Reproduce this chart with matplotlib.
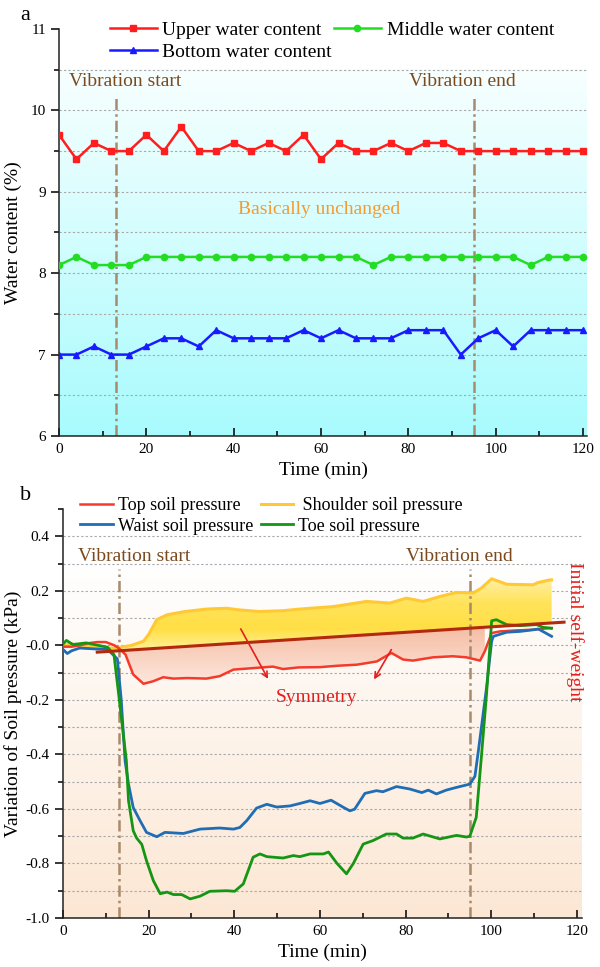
import numpy as np
import matplotlib.pyplot as plt
from matplotlib.colors import LinearSegmentedColormap
from matplotlib.ticker import MultipleLocator, FormatStrFormatter
from matplotlib.path import Path

plt.rcParams['font.family'] = ['Liberation Serif', 'DejaVu Serif']
plt.rcParams['axes.unicode_minus'] = False

# ---- panel a: water content (%) every 4 min ----
time_a = [0, 4, 8, 12, 16, 20, 24, 28, 32, 36, 40, 44, 48, 52, 56, 60,
          64, 68, 72, 76, 80, 84, 88, 92, 96, 100, 104, 108, 112, 116, 120]
upper = [9.7, 9.4, 9.6, 9.5, 9.5, 9.7, 9.5, 9.8, 9.5, 9.5, 9.6, 9.5, 9.6, 9.5, 9.7, 9.4,
         9.6, 9.5, 9.5, 9.6, 9.5, 9.6, 9.6, 9.5, 9.5, 9.5, 9.5, 9.5, 9.5, 9.5, 9.5]
middle = [8.1, 8.2, 8.1, 8.1, 8.1, 8.2, 8.2, 8.2, 8.2, 8.2, 8.2, 8.2, 8.2, 8.2, 8.2, 8.2,
          8.2, 8.2, 8.1, 8.2, 8.2, 8.2, 8.2, 8.2, 8.2, 8.2, 8.2, 8.1, 8.2, 8.2, 8.2]
bottom = [7.0, 7.0, 7.1, 7.0, 7.0, 7.1, 7.2, 7.2, 7.1, 7.3, 7.2, 7.2, 7.2, 7.2, 7.3, 7.2,
          7.3, 7.2, 7.2, 7.2, 7.3, 7.3, 7.3, 7.0, 7.2, 7.3, 7.1, 7.3, 7.3, 7.3, 7.3]

# ---- panel b: soil pressure variation (kPa) ----
top_t = [0, 2, 4, 6, 8, 10, 12, 13, 14.6, 16.4, 18.8, 21, 23.4, 25.8, 29, 33.5, 36.6,
         39.8, 44, 49, 51.4, 55, 60, 64, 68.6, 73.3, 76.7, 79.4, 81.7, 86.4, 91, 94.2,
         97.4, 98.5, 100.1, 102, 106, 109.6, 113.5, 114]
top_v = [-0.005, -0.005, 0.0, 0.008, 0.012, 0.012, 0.0, -0.01, -0.034, -0.107, -0.141,
         -0.132, -0.117, -0.122, -0.12, -0.122, -0.113, -0.089, -0.084, -0.078, -0.087,
         -0.081, -0.08, -0.075, -0.071, -0.059, -0.028, -0.052, -0.056, -0.044, -0.04,
         -0.044, -0.056, -0.022, 0.045, 0.051, 0.055, 0.057, 0.063, 0.062]

shoulder_t = [0, 2, 4, 6, 8, 10, 12.5, 16, 18.8, 20, 21.9, 24.3, 28.5, 33.5, 38.2, 41.1,
              45.8, 51.4, 55.3, 63.1, 70.9, 76.3, 80.2, 84.1, 88, 91.9, 95.8, 97.7,
              100.1, 103.6, 109.8, 110.9, 113.7, 114.1]
shoulder_v = [0.0, 0.005, 0.0, -0.005, -0.005, -0.01, -0.01, 0.0, 0.015, 0.04, 0.094,
              0.112, 0.124, 0.133, 0.136, 0.13, 0.124, 0.127, 0.133, 0.142, 0.161, 0.155,
              0.173, 0.161, 0.179, 0.194, 0.192, 0.21, 0.244, 0.224, 0.222, 0.23, 0.24, 0.24]

waist_t = [0, 1, 2, 3.9, 7.3, 10.4, 12.7, 13.6, 14.5, 15.3, 16.4, 18, 19.5, 21.9, 23.8,
           28.1, 32, 36.6, 39.8, 41.3, 42.9, 45.2, 47.6, 49.9, 53, 55.3, 57.7, 60, 62.6,
           65.8, 67, 68.1, 70.5, 73.2, 74.7, 77.9, 81, 83.8, 85.3, 87.2, 89.5, 91.9, 95,
           96.2, 97, 98.9, 100.1, 100.5, 103.6, 106.7, 109.8, 111, 112.5, 114.1]
waist_v = [-0.015, -0.03, -0.02, -0.01, -0.013, -0.015, -0.05, -0.2, -0.424, -0.509,
           -0.595, -0.643, -0.686, -0.702, -0.686, -0.69, -0.674, -0.67, -0.674, -0.668,
           -0.643, -0.597, -0.583, -0.593, -0.589, -0.58, -0.57, -0.58, -0.568, -0.597,
           -0.607, -0.601, -0.543, -0.533, -0.537, -0.518, -0.527, -0.54, -0.531, -0.545,
           -0.531, -0.521, -0.509, -0.48, -0.387, -0.156, 0.015, 0.033, 0.048, 0.051,
           0.057, 0.06, 0.047, 0.033]

toe_t = [0, 0.8, 2.3, 5.4, 7.3, 10.4, 11.9, 13, 14.8, 15.3, 16.4, 17.2, 18.4, 19.5, 21.1,
         22.7, 24.3, 25.8, 27.7, 29.7, 32, 34.3, 38.2, 40.1, 42.1, 44.4, 46, 47.6, 51.4,
         53.8, 55.3, 57.7, 60.8, 62, 64, 66.2, 67.8, 70.1, 72.4, 75.5, 77.9, 79.4, 81.7,
         84.1, 88, 91.9, 94.2, 95, 96.5, 97.7, 98.9, 100.1, 101.2, 103.6, 106.7, 110.6,
         112.1, 114.1]
toe_v = [0.005, 0.018, 0.003, 0.009, 0.003, -0.007, -0.034, -0.18, -0.424, -0.57, -0.68,
         -0.707, -0.73, -0.79, -0.863, -0.911, -0.905, -0.914, -0.914, -0.93, -0.92,
         -0.902, -0.9, -0.902, -0.875, -0.777, -0.765, -0.775, -0.78, -0.771, -0.775,
         -0.765, -0.765, -0.758, -0.8, -0.838, -0.8, -0.729, -0.716, -0.692, -0.692,
         -0.707, -0.707, -0.692, -0.71, -0.697, -0.703, -0.7, -0.631, -0.41, -0.18, 0.09,
         0.094, 0.076, 0.072, 0.076, 0.066, 0.063]

selfweight_t = [8, 117]
selfweight_v = [-0.025, 0.085]

vib_start, vib_end = 13, 95

brown_line = '#a88a6c'
brown_text = '#7b4a1e'
vib_ls = (0, (4.5, 1.6, 1, 1.6))


def vgrad(ax, extent, colors, z=0):
    cmap = LinearSegmentedColormap.from_list('g', colors)
    grad = np.linspace(0, 1, 256).reshape(-1, 1)
    return ax.imshow(grad, extent=extent, origin='lower', aspect='auto',
                     cmap=cmap, zorder=z, interpolation='bilinear')


def style_axes(ax):
    for s in ['top', 'right']:
        ax.spines[s].set_visible(False)
    for s in ['left', 'bottom']:
        ax.spines[s].set_linewidth(1.1)
        ax.spines[s].set_color('#222222')
    ax.tick_params(axis='y', which='major', direction='out', length=6, width=1.1, labelsize=11)
    ax.tick_params(axis='y', which='minor', direction='out', length=3.5, width=1.1)
    ax.tick_params(axis='x', which='major', direction='in', length=6, width=1.1, labelsize=11, pad=5)
    ax.tick_params(axis='x', which='minor', direction='in', length=3.5, width=1.1)
    ax.xaxis.set_major_locator(MultipleLocator(20))
    ax.xaxis.set_minor_locator(MultipleLocator(10))


fig = plt.figure(figsize=(6, 9.67), dpi=100)

# ================= panel a =================
ax = fig.add_axes([59 / 600, 1 - 436 / 967, 528 / 600, 407 / 967])
vgrad(ax, (0, 120.9, 6, 10.5), ['#a8fbfd', '#f8ffff'])
ax.hlines(np.arange(6.5, 10.51, 0.5), 0, 120.9, colors='#a8a8a8', lw=0.8,
          linestyles=(0, (2, 2)), zorder=1)
ax.plot([vib_start, vib_start], [6, 10.15], color=brown_line, lw=1.8, ls=vib_ls, zorder=2)
ax.plot([vib_end, vib_end], [6, 10.15], color=brown_line, lw=1.8, ls=vib_ls, zorder=2)
l_up, = ax.plot(time_a, upper, color='#ff1e1e', lw=1.8, marker='s', ms=4.5, zorder=3)
l_mid, = ax.plot(time_a, middle, color='#22dd22', lw=1.8, marker='o', ms=4.5, zorder=3)
l_bot, = ax.plot(time_a, bottom, color='#1a1aff', lw=1.8, marker='^', ms=4.5, zorder=3)
ax.text(2.3, 10.35, 'Vibration start', color=brown_text, fontsize=14, va='center')
ax.text(80.1, 10.36, 'Vibration end', color=brown_text, fontsize=14, va='center')
ax.text(59.5, 8.78, 'Basically unchanged', color='#f59a2e', fontsize=14,
        ha='center', va='center')
ax.set_xlim(0, 120.9)
ax.set_ylim(6, 11)
style_axes(ax)
ax.yaxis.set_major_locator(MultipleLocator(1))
ax.yaxis.set_minor_locator(MultipleLocator(0.5))
ax.set_xlabel('Time (min)', fontsize=14, labelpad=4)
ax.set_ylabel('Water content (%)', fontsize=14)
ax.yaxis.set_label_coords(-0.07, 0.5)
ax.legend([l_up, l_bot, l_mid],
          ['Upper water content', 'Bottom water content', 'Middle water content'],
          ncol=2, frameon=False, fontsize=14, loc='upper left',
          bbox_to_anchor=(110 / 600, 1 - 21 / 967), bbox_transform=fig.transFigure,
          borderpad=0, borderaxespad=0, handlelength=2.4, handletextpad=0.3,
          columnspacing=0.1, labelspacing=0.25)
fig.text(20 / 600, 1 - 15 / 967, 'a', fontsize=16, va='center')

# ================= panel b =================
ax = fig.add_axes([63 / 600, 1 - 918 / 967, 519 / 600, 409 / 967])
vgrad(ax, (0, 121.2, -1.0, 0.3), ['#fce7d4', '#ffffff'])
ax.hlines(np.arange(-0.9, 0.41, 0.1), 0, 121.2, colors='#a8a8a8', lw=0.8,
          linestyles=(0, (2, 2)), zorder=1)
ax.plot([vib_start, vib_start], [-1.0, 0.28], color=brown_line, lw=1.8, ls=vib_ls, zorder=2)
ax.plot([vib_end, vib_end], [-1.0, 0.28], color=brown_line, lw=1.8, ls=vib_ls, zorder=2)

sh_t = np.array(shoulder_t)
sh_v = np.array(shoulder_v)
sh_base = np.interp(sh_t, selfweight_t, selfweight_v)
m = sh_t >= 12.5
poly = ax.fill_between(sh_t[m], sh_base[m], sh_v[m], where=sh_v[m] >= sh_base[m],
                       interpolate=True, facecolor='none', edgecolor='none')
im = vgrad(ax, (0, 121.2, -0.03, 0.25), ['#fff4a6', '#ffdf44', '#ffe35a', '#fff1a8'], z=1.5)
im.set_clip_path(Path.make_compound_path(*poly.get_paths()), transform=ax.transData)

tp_t = np.array(top_t)
tp_v = np.array(top_v)
tp_base = np.interp(tp_t, selfweight_t, selfweight_v)
m = (tp_t >= 12.5) & (tp_t <= 99)
poly = ax.fill_between(tp_t[m], tp_base[m], tp_v[m], where=tp_v[m] <= tp_base[m],
                       interpolate=True, facecolor='none', edgecolor='none')
im = vgrad(ax, (0, 121.2, -0.145, 0.06), ['#fde8de', '#f6bea6'], z=1.5)
im.set_clip_path(Path.make_compound_path(*poly.get_paths()), transform=ax.transData)

l_sh, = ax.plot(shoulder_t, shoulder_v, color='#ffc935', lw=2.2, zorder=3)
l_top, = ax.plot(top_t, top_v, color='#f53a2a', lw=1.8, zorder=3)
l_wa, = ax.plot(waist_t, waist_v, color='#1f6db5', lw=2.0, zorder=3)
l_toe, = ax.plot(toe_t, toe_v, color='#149614', lw=2.0, zorder=3)
ax.plot(selfweight_t, selfweight_v, color='#b3290e', lw=2.2, zorder=4)

ax.text(3.5, 0.325, 'Vibration start', color=brown_text, fontsize=14, va='center')
ax.text(80.1, 0.325, 'Vibration end', color=brown_text, fontsize=14, va='center')
ax.text(59.3, -0.19, 'Symmetry', color='#e51e1e', fontsize=14, ha='center', va='center')
ax.text(119.5, 0.05, 'Initial self-weight', color='#e51e1e', fontsize=14,
        rotation=270, ha='center', va='center')
ax.annotate('', xy=(48.2, -0.132), xytext=(41.2, 0.069),
            arrowprops=dict(arrowstyle='->', color='#e51e1e', lw=1.2), zorder=5)
ax.annotate('', xy=(72.3, -0.134), xytext=(77.0, -0.007),
            arrowprops=dict(arrowstyle='->', color='#e51e1e', lw=1.2), zorder=5)

ax.set_xlim(0, 121.2)
style_axes(ax)
ax.yaxis.set_minor_locator(MultipleLocator(0.1))
ax.set_yticks(np.arange(-1.0, 0.41, 0.2))
ax.yaxis.set_major_formatter(FormatStrFormatter('%.1f'))
ax.set_ylim(-1.0, 0.5)
ax.set_xlabel('Time (min)', fontsize=14, labelpad=4)
ax.set_ylabel('Variation of Soil pressure (kPa)', fontsize=14)
ax.yaxis.set_label_coords(-0.079, 0.5)
ax.legend([l_top, l_wa, l_sh, l_toe],
          ['Top soil pressure', 'Waist soil pressure', ' Shoulder soil pressure',
           'Toe soil pressure'],
          ncol=2, frameon=False, fontsize=13, loc='upper left',
          bbox_to_anchor=(80 / 600, 1 - 497 / 967), bbox_transform=fig.transFigure,
          borderpad=0, borderaxespad=0, handlelength=1.8, handletextpad=0.3,
          columnspacing=0.4, labelspacing=0.2)
fig.text(20 / 600, 1 - 496 / 967, 'b', fontsize=16, va='center')

fig.savefig('out.png', dpi=100)
